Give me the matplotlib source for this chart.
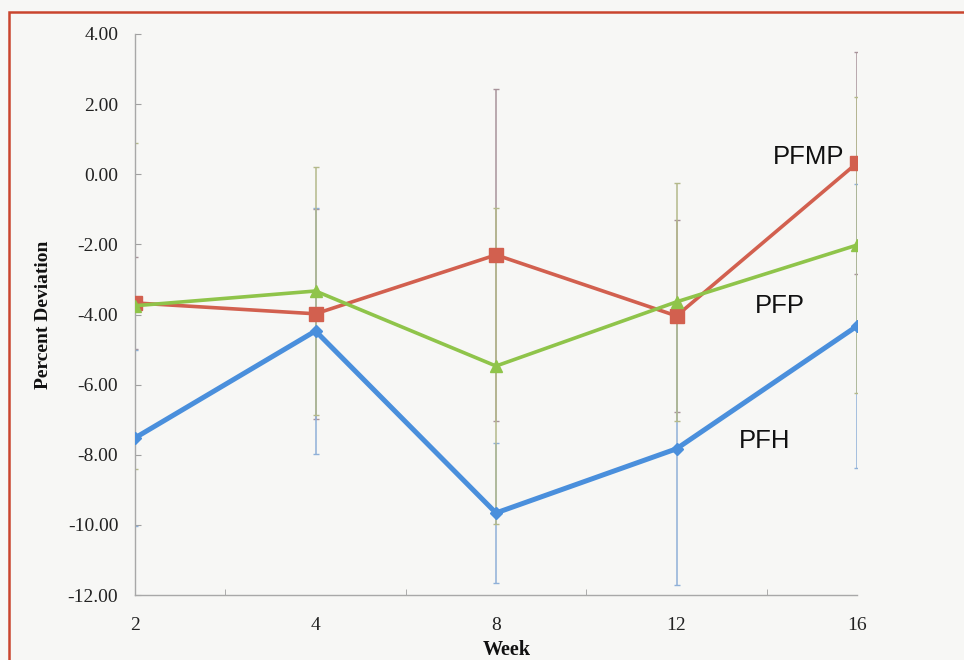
import matplotlib
matplotlib.use("Agg")
import matplotlib.pyplot as plt
from matplotlib.patches import Rectangle

weeks = ["2", "4", "8", "12", "16"]

pfmp_mean = [-3.67, -3.98, -2.30, -4.04, 0.32]
pfmp_sd = [1.30, 3.00, 4.73, 2.74, 3.16]

pfp_mean = [-3.75, -3.33, -5.47, -3.64, -2.02]
pfp_sd = [4.65, 3.53, 4.50, 3.39, 4.22]

pfh_mean = [-7.52, -4.47, -9.66, -7.83, -4.33]
pfh_sd = [2.50, 3.50, 2.00, 3.89, 4.05]

series_names = ["PFMP", "PFP", "PFH"]
y_ticks = [4, 2, 0, -2, -4, -6, -8, -10, -12]

bg = "#f7f7f5"
fig = plt.figure(figsize=(9.64, 6.6), dpi=100, facecolor=bg)
ax = fig.add_axes([135 / 964, 1 - 595 / 660, (857 - 135) / 964, (595 - 34) / 660])
ax.set_facecolor("none")

x = list(range(len(weeks)))

specs = [
    (pfmp_mean, pfmp_sd, "#d2604f", "#a8939a", "s", 10, 2.6, 3),
    (pfh_mean, pfh_sd, "#4a8fdc", "#8fb0d8", "D", 6.5, 3.6, 4),
    (pfp_mean, pfp_sd, "#8fc44a", "#b4b98a", "^", 8, 2.6, 5),
]
for mean, sd, col, ecol, mk, ms, lw, z in specs:
    ax.errorbar(x, mean, yerr=sd, fmt="none", ecolor=ecol, elinewidth=1.1,
                capsize=2.5, capthick=1.0, zorder=2)
    ax.plot(x, mean, color=col, lw=lw, marker=mk, ms=ms, mec=col, mfc=col,
            zorder=z)

ax.set_xlim(0, len(weeks) - 1)
ax.set_ylim(-12, 4)
ax.set_xticks(x)
ax.set_xticklabels(weeks)
ax.set_xticks([i + 0.5 for i in range(len(weeks) - 1)], minor=True)
ax.set_yticks(y_ticks)
ax.set_yticklabels([f"{v:.2f}" for v in y_ticks])

serif = ["Liberation Serif", "DejaVu Serif"]
for lab in ax.get_xticklabels() + ax.get_yticklabels():
    lab.set_fontfamily(serif)
    lab.set_fontsize(14)
    lab.set_color("#222222")

ax.tick_params(axis="x", which="major", length=0, pad=16)
ax.tick_params(axis="x", which="minor", direction="in", length=4, color="#a0a0a0")
ax.tick_params(axis="y", which="major", direction="in", length=4, color="#a0a0a0", pad=12)
for lab in ax.get_yticklabels():
    lab.set_horizontalalignment("right")

for s in ["top", "right"]:
    ax.spines[s].set_visible(False)
for s in ["left", "bottom"]:
    ax.spines[s].set_color("#a8a8a8")
    ax.spines[s].set_linewidth(1.0)

ax.set_ylabel("Percent Deviation", fontfamily=serif, fontweight="bold",
              fontsize=14, color="#111111")
ax.set_xlabel("Week", fontfamily=serif, fontweight="bold", fontsize=14.5,
              color="#111111")
ax.yaxis.set_label_coords(-0.115, 0.5)
ax.xaxis.set_label_coords(0.515, -0.080)

sans = ["Liberation Sans", "DejaVu Sans"]
label_pos = [(809, 157), (780, 306), (765, 441)]
for name, (px, py) in zip(series_names, label_pos):
    fig.text(px / 964, 1 - py / 660, name, fontfamily=sans, fontsize=18.5,
             ha="center", va="center", color="#111111")

fig.patches.append(Rectangle((8.5 / 964, -0.05), 1.2, 1 - 11.5 / 660 + 0.05,
                             transform=fig.transFigure, fill=False,
                             edgecolor="#c9452e", linewidth=1.8))

fig.savefig("out.png", dpi=100, facecolor=bg)
